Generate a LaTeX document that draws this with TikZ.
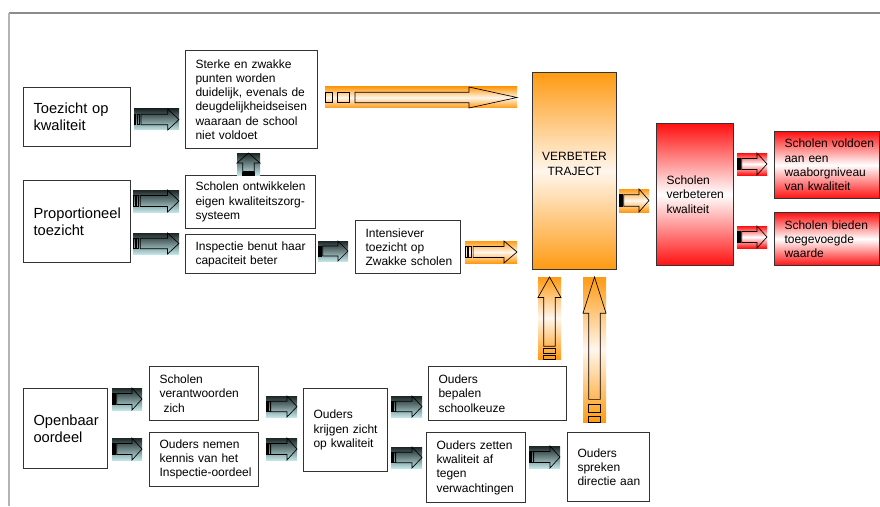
\documentclass[tikz,border=0pt]{standalone}
\usepackage{fontspec}
\setmainfont{Liberation Sans}
\usepackage{tikz}
\definecolor{boxLine}{HTML}{333333}
\definecolor{frameTop}{HTML}{8C8C8C}
\definecolor{frameLeft}{HTML}{B4B4B4}
\definecolor{tealDark}{HTML}{1C2626}
\definecolor{tealLight}{HTML}{C0E4E6}
\definecolor{trajOrange}{HTML}{FF9A12}
\definecolor{trajPale}{HTML}{FFF6EC}
\definecolor{goalRed}{HTML}{FF1010}
\hyphenpenalty=10000
\exhyphenpenalty=10000

\newcommand\blockright[5]{%
  \pgfmathsetmacro\arrlen{#4-#2}%
  \pgfmathsetmacro\arrthk{#5-#3}%
  \pgfmathsetmacro\arrhead{max(0.25*\arrlen,10)}%
  \path[#1] (#2,#3) rectangle (#4,#5);
  \draw[arrline] ({#2+0.156*\arrlen},{#3+0.25*\arrthk}) -- ({#4-\arrhead},{#3+0.25*\arrthk})
    -- ({#4-\arrhead},#3) -- (#4,{#3+0.5*\arrthk}) -- ({#4-\arrhead},#5)
    -- ({#4-\arrhead},{#5-0.25*\arrthk}) -- ({#2+0.156*\arrlen},{#5-0.25*\arrthk}) -- cycle;
  \draw[arrline] (#2,{#3+0.25*\arrthk}) rectangle ({#2+0.04*\arrlen},{#5-0.25*\arrthk})
    ({#2+0.065*\arrlen},{#3+0.25*\arrthk}) rectangle ({#2+0.125*\arrlen},{#5-0.25*\arrthk});
}
\newcommand\blockup[5]{%
  \pgfmathsetmacro\arrlen{#5-#3}%
  \pgfmathsetmacro\arrthk{#4-#2}%
  \pgfmathsetmacro\arrhead{max(0.25*\arrlen,10)}%
  \path[#1] (#2,#3) rectangle (#4,#5);
  \draw[arrline] ({#2+0.25*\arrthk},{#5-0.156*\arrlen}) -- ({#2+0.25*\arrthk},{#3+\arrhead})
    -- (#2,{#3+\arrhead}) -- ({#2+0.5*\arrthk},#3) -- (#4,{#3+\arrhead})
    -- ({#4-0.25*\arrthk},{#3+\arrhead}) -- ({#4-0.25*\arrthk},{#5-0.156*\arrlen}) -- cycle;
  \draw[arrline] ({#2+0.25*\arrthk},#5) rectangle ({#4-0.25*\arrthk},{#5-0.04*\arrlen})
    ({#2+0.25*\arrthk},{#5-0.065*\arrlen}) rectangle ({#4-0.25*\arrthk},{#5-0.125*\arrlen});
}

\begin{document}
\begin{tikzpicture}[x=0.75pt,y=-0.75pt,
  plainbox/.style={draw=boxLine,line width=0.8pt,fill=white,anchor=north west,inner xsep=0pt,inner ysep=0pt,font=\fontsize{9}{10.7}\selectfont},
  box/.style={plainbox,align=left,execute at begin node={\leftskip=7.5pt\relax}},
  bigbox/.style={box,font=\fontsize{11}{12.75}\selectfont},
  centerbox/.style={plainbox,align=center},
  tealshade/.style={top color=tealDark,bottom color=tealLight},
  orangeshade/.style={top color=trajOrange,bottom color=trajOrange,middle color=trajPale},
  redshade/.style={top color=goalRed,bottom color=goalRed,middle color=white},
  arrline/.style={draw=black,line width=0.5pt}]
  \useasboundingbox (0,0) rectangle (880,506);
  \draw[frameTop,line width=1pt] (9,13) -- (880,13);
  \draw[frameLeft,line width=1pt] (9,13) -- (9,506);

  \node[bigbox,text width=80.25pt,minimum height=44.25pt] (toezicht) at (23,87) {Toezicht op\\kwaliteit};
  \node[bigbox,text width=80.25pt,minimum height=61.5pt] (prop) at (23,180) {Proportioneel\\toezicht};
  \node[bigbox,text width=63pt,minimum height=60pt] (openbaar) at (23,388) {Openbaar\\oordeel};
  \node[box,text width=99pt,minimum height=73.5pt] (sterke) at (185,50) {Sterke en zwakke\\punten worden\\duidelijk, evenals de\\deugdelijkheidseisen\\waaraan de school\\niet voldoet};
  \node[box,text width=97.5pt,minimum height=39.75pt] (ontw) at (185,175) {Scholen ontwikkelen\\eigen kwaliteitszorg-\\systeem};
  \node[box,text width=97.5pt,minimum height=29.25pt] (benut) at (185,234) {Inspectie benut haar\\capaciteit beter};
  \node[box,text width=78.75pt,minimum height=39.75pt] (intens) at (355,220) {Intensiever\\toezicht op\\Zwakke scholen};
  \node[centerbox,orangeshade,text width=63pt,minimum height=147.75pt] (traject) at (532,72) {VERBETER\\TRAJECT\\\mbox{}};
  \node[box,redshade,text width=57.75pt,minimum height=106.5pt] (verbeter) at (656,123) {Scholen\\verbeteren\\kwaliteit};
  \node[box,redshade,text width=78.75pt,minimum height=50.25pt] (voldoen) at (774,131) {Scholen voldoen\\aan een\\waaborgniveau\\van kwaliteit};
  \node[box,redshade,text width=78.75pt,minimum height=39.75pt] (bieden) at (774,212) {Scholen bieden\\toegevoegde\\waarde};
  \node[box,text width=81.75pt,minimum height=40.5pt] (verantw) at (149,366) {Scholen\\verantwoorden\\\ zich};
  \node[box,text width=81.75pt,minimum height=40.5pt] (kennis) at (149,432) {Ouders nemen\\kennis van het\\Inspectie-oordeel};
  \node[box,text width=63pt,minimum height=62.25pt] (zicht) at (303,388) {Ouders\\krijgen zicht\\op kwaliteit};
  \node[box,text width=103.5pt,minimum height=40.5pt] (keuze) at (428,366) {Ouders\\bepalen\\schoolkeuze};
  \node[box,text width=74.25pt,minimum height=52.5pt] (zetten) at (426,432) {Ouders zetten\\kwaliteit af\\tegen\\verwachtingen};
  \node[box,text width=61.5pt,minimum height=51.75pt] (spreken) at (567,432) {Ouders\\spreken\\directie aan};

  \blockright{tealshade}{134}{109}{179}{130}
  \blockright{tealshade}{133}{190}{179}{212}
  \blockright{tealshade}{133}{233}{179}{254}
  \blockright{tealshade}{318}{241}{348}{261}
  \blockup{tealshade}{237}{153}{260}{175}
  \blockright{tealshade}{112}{388}{142}{410}
  \blockright{tealshade}{112}{438}{142}{460}
  \blockright{tealshade}{266}{396}{297}{417}
  \blockright{tealshade}{266}{438}{297}{460}
  \blockright{tealshade}{391}{396}{422}{417}
  \blockright{tealshade}{391}{447}{422}{468}
  \blockright{tealshade}{529}{446}{560}{468}
  \blockright{orangeshade}{325}{87}{517}{108}
  \blockright{orangeshade}{465}{241}{517}{263}
  \blockright{orangeshade}{619}{189}{649}{212}
  \blockup{orangeshade}{538}{277}{561}{359}
  \blockup{orangeshade}{583}{277}{606}{422}
  \blockright{redshade}{737}{153}{767}{175}
  \blockright{redshade}{737}{226}{767}{248}
\end{tikzpicture}
\end{document}
